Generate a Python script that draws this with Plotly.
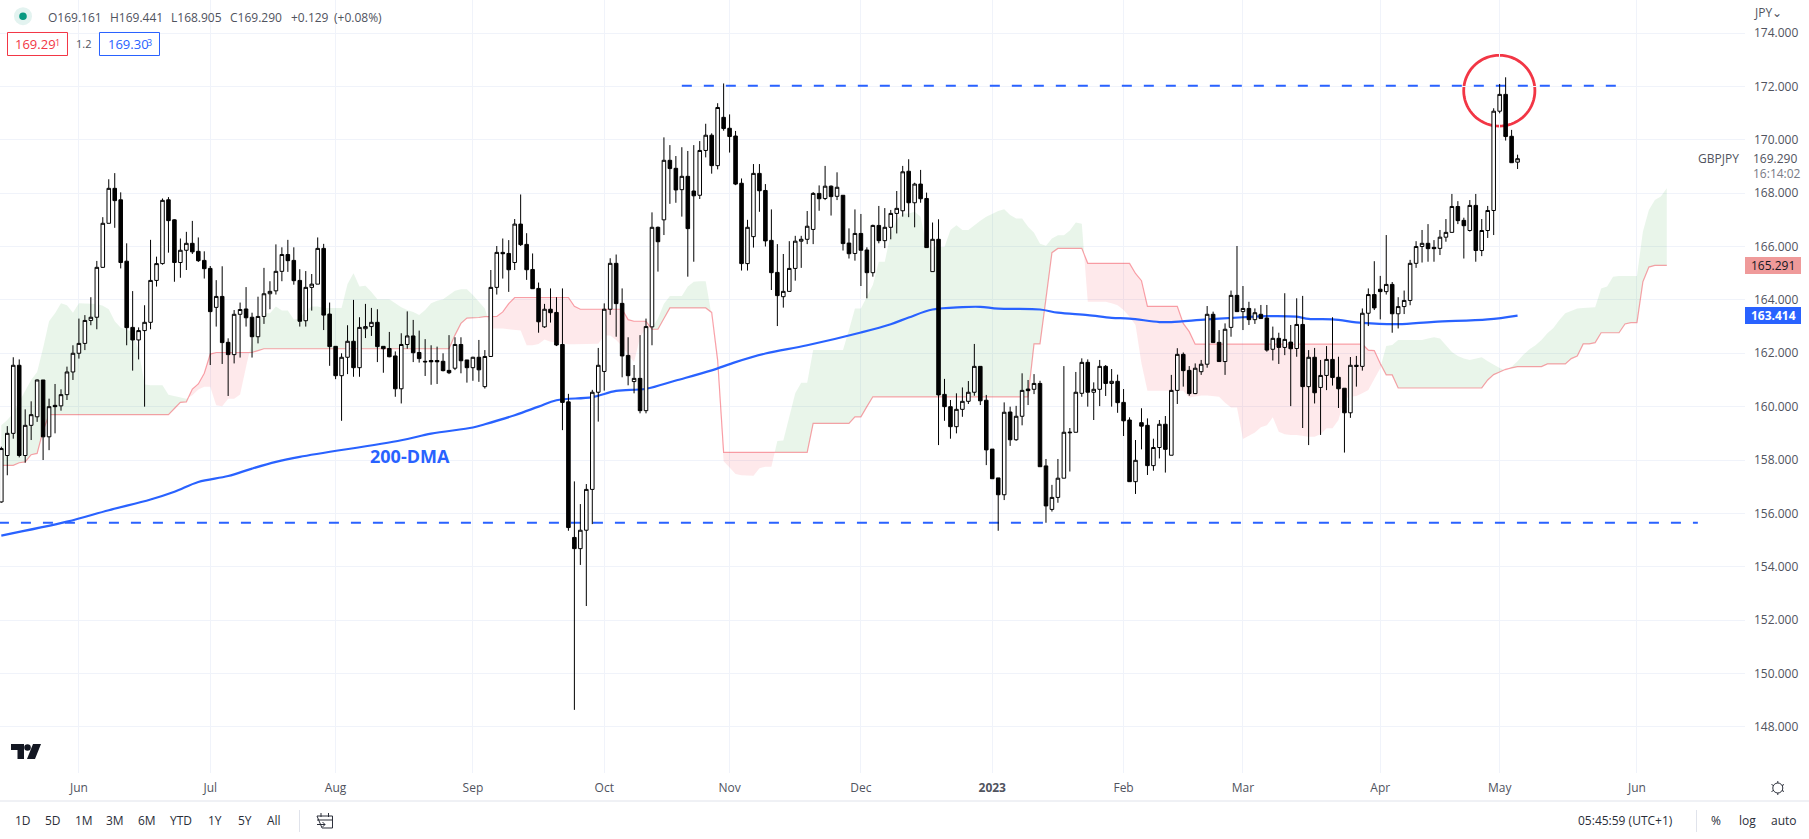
import math
import pandas as pd
import plotly.graph_objects as go

W, H = 1809, 839
PLOT_R, PLOT_B = 1745, 773
FONT = "Open Sans"
GREY = "#50535e"
BLUE = "#2962ff"
RED = "#f23645"

start_date = "2022-05-13"

opens = [156.43,158.17,159.0,161.55,158.17,159.3,159.62,161.0,158.87,160.05,
160.03,160.45,161.3,162.0,162.37,163.23,163.35,165.22,166.87,168.18,
167.75,165.45,162.97,162.5,162.85,163.16,164.73,165.36,167.75,167.0,
165.4,165.86,166.12,165.82,165.48,165.18,163.72,164.13,162.41,161.95,
163.46,163.66,163.35,162.62,163.38,164.23,164.34,165.07,165.7,165.48,
164.73,163.22,164.47,164.59,165.93,163.47,162.26,161.16,161.85,162.45,
161.46,162.92,163.0,163.16,162.26,162.18,161.9,160.67,162.33,162.65,
162.03,161.7,161.73,161.73,161.7,161.36,161.44,162.33,161.75,161.46,
161.85,160.75,161.88,164.47,165.78,165.74,165.4,166.84,166.08,165.14,
164.43,162.99,163.65,163.53,162.33,160.18,155.1,154.68,155.37,156.9,
160.54,161.32,163.65,165.37,163.87,161.92,160.94,161.06,159.85,162.99,
166.72,167.0,169.23,168.93,168.13,168.63,168.08,167.92,169.6,170.17,
169.03,170.84,170.43,170.14,168.37,165.36,166.37,168.74,168.1,166.23,
165.03,164.12,164.32,165.18,166.2,166.27,166.64,167.99,167.8,168.26,
167.88,167.92,166.13,165.74,166.49,165.87,165.02,166.79,166.22,166.72,
167.24,167.34,168.82,167.64,168.34,167.8,165.06,166.27,160.46,160.0,
159.25,159.9,160.2,160.54,161.51,160.24,158.41,157.33,156.7,159.8,
158.76,159.64,160.66,160.65,160.87,157.78,156.15,156.6,157.32,159.02,
159.04,160.5,161.66,160.54,160.65,161.51,160.87,160.95,160.16,159.5,
157.19,159.4,159.3,157.79,158.47,159.34,158.18,160.61,161.96,161.36,
160.49,161.31,161.59,163.46,162.41,161.69,162.97,164.17,163.56,163.68,
163.26,163.46,163.32,162.15,162.56,162.22,162.42,162.18,163.08,160.75,
161.85,160.72,161.17,161.77,161.1,160.69,159.77,161.55,161.51,163.5,
164.2,164.4,164.31,164.58,163.48,163.75,163.98,165.37,166.0,166.12,
165.97,165.93,166.35,166.53,167.5,166.98,166.6,167.54,165.85,166.6,
167.35,171.07,171.7,170.13,169.161]

closes = [158.43,159.0,161.55,158.17,159.3,159.7,161.0,158.87,160.0,160.0,
160.45,161.3,162.0,162.37,163.23,163.35,165.22,166.87,168.18,167.72,
165.4,162.96,162.5,162.85,163.16,164.73,165.36,167.73,166.97,165.4,
165.86,166.12,165.8,165.47,165.17,163.56,164.13,162.4,161.95,163.46,
163.64,163.33,162.62,163.38,164.23,164.32,165.07,165.7,165.47,164.72,
163.2,164.47,164.59,165.93,163.43,162.25,161.16,161.85,162.45,161.46,
162.97,163.0,163.16,162.25,162.17,161.87,160.67,162.33,162.65,162.02,
161.8,161.68,161.68,161.68,161.35,161.27,162.33,161.72,161.46,161.85,
161.38,161.88,164.47,165.78,165.73,165.13,166.84,166.07,165.13,164.42,
163.18,163.65,163.52,162.31,160.16,155.47,154.68,155.37,156.9,160.54,
161.55,163.65,165.37,163.86,161.9,161.16,161.06,159.85,163.0,166.72,
166.18,169.23,168.92,168.12,168.63,166.67,167.9,169.6,170.17,169.03,
171.21,170.42,170.12,168.34,165.36,166.72,168.74,168.09,166.21,165.02,
164.16,164.32,165.18,166.2,166.27,166.76,167.99,167.79,168.26,167.87,
168.22,166.11,165.73,166.49,165.86,165.02,166.79,166.22,166.72,167.24,
167.43,168.8,167.64,168.34,167.79,165.96,166.27,160.44,160.0,159.25,
159.9,160.2,160.54,161.51,160.22,158.38,157.3,156.7,159.79,158.76,
159.64,160.61,160.6,160.87,157.75,156.28,156.6,157.32,159.04,159.04,
160.54,161.66,160.54,160.65,161.51,160.87,160.95,160.15,159.47,157.19,
157.99,159.27,157.79,158.47,159.34,158.4,160.61,161.96,161.35,160.49,
161.44,161.59,163.46,162.4,161.69,162.9,164.17,163.56,163.68,163.26,
163.52,163.3,162.12,162.56,162.22,162.52,162.17,163.08,160.75,161.85,
160.52,161.17,161.77,161.09,160.67,159.77,161.55,161.51,163.5,164.2,
163.7,164.31,164.58,163.48,163.75,163.98,165.37,166.0,166.12,165.92,
165.92,166.35,166.53,167.5,166.97,166.78,167.54,165.85,166.6,167.35,
171.07,171.7,170.12,169.14,169.29]

highs = [158.5,159.27,161.85,161.77,159.9,160.2,161.02,161.0,160.3,160.85,
160.65,161.5,162.3,163.3,163.43,164.1,165.46,167.1,168.52,168.75,
168.03,166.12,164.33,162.97,163.8,166.25,165.62,167.8,167.85,167.02,
166.3,166.55,166.96,166.34,165.82,165.27,164.74,165.26,162.56,163.62,
163.9,164.48,163.52,164.12,165.2,164.7,166.08,165.97,166.25,165.97,
165.15,165.08,164.97,166.34,166.1,163.9,162.26,162.0,163.05,164.0,
163.35,163.85,163.7,163.65,162.26,162.8,162.07,162.75,163.57,163.25,
162.85,162.53,162.3,162.25,162.0,162.68,162.6,162.6,161.75,161.87,
162.5,162.12,165.12,166.02,166.3,166.24,167.03,167.95,166.5,165.74,
164.65,163.85,164.43,164.1,164.43,160.48,157.2,156.35,157.1,160.63,
162.2,163.87,165.56,165.7,164.43,162.6,161.56,162.68,163.3,167.28,
166.75,170.09,169.8,169.39,169.72,169.58,169.8,169.95,170.6,170.24,
171.37,172.11,170.95,170.33,168.55,167.0,169.09,169.09,168.34,167.39,
166.09,165.72,166.2,166.4,166.4,167.33,168.04,168.29,169.02,168.29,
168.78,167.92,166.68,167.39,167.22,165.97,166.82,167.52,167.44,167.37,
168.08,169.02,169.27,168.39,168.87,168.02,166.9,167.02,161.04,160.25,
160.5,160.72,160.96,162.35,161.51,160.44,158.41,157.33,160.16,160.0,
160.03,161.25,161.0,161.22,160.97,158.04,157.07,158.04,161.52,159.2,
161.3,161.81,161.77,160.91,161.75,161.56,161.41,161.2,160.66,159.6,
158.75,159.94,159.56,158.8,159.5,159.65,161.19,162.19,162.03,161.52,
161.62,161.75,163.77,163.56,162.87,163.12,164.35,166.02,164.52,163.93,
163.68,163.81,163.81,163.0,162.77,164.25,163.06,164.06,164.15,162.12,
162.2,161.75,162.27,163.35,161.87,160.69,161.86,161.9,163.68,164.43,
165.45,164.9,166.43,164.67,164.1,164.35,165.5,166.2,166.62,166.84,
166.24,166.62,167.03,167.97,167.7,167.08,167.74,167.97,167.03,167.52,
171.18,172.09,172.34,170.37,169.441]

lows = [156.4,157.43,158.8,158.1,157.9,158.75,159.43,158.0,158.37,159.0,
159.85,160.25,161.0,161.8,162.12,163.05,162.9,165.2,166.87,166.7,
165.18,162.3,161.35,161.77,160.0,162.9,164.5,165.32,165.77,164.68,
164.83,165.12,165.72,165.42,164.8,161.56,163.0,161.6,160.4,161.62,
161.84,163.0,161.84,162.37,163.1,163.65,164.2,164.7,165.05,164.57,
163.0,163.0,163.6,164.59,162.87,161.53,161.03,159.47,161.22,161.12,
161.12,162.57,162.65,161.67,161.27,161.85,160.37,160.12,162.17,161.67,
161.65,161.15,160.82,160.85,161.32,161.22,161.37,161.25,160.9,160.97,
160.93,160.68,161.87,164.2,164.8,164.3,165.12,166.02,164.75,164.42,
162.77,162.95,163.15,162.27,159.12,155.35,148.64,154.07,152.53,155.6,
159.44,160.6,163.44,162.62,161.1,160.8,160.5,159.75,159.75,162.3,
165.06,166.43,167.6,167.64,167.12,164.87,165.43,167.78,169.34,168.73,
168.89,170.34,169.52,168.3,165.1,165.1,165.96,167.3,166.0,164.37,
163.02,163.71,164.31,164.72,165.2,166.09,166.09,167.34,167.74,167.16,
167.74,165.85,165.55,165.47,164.52,164.06,164.87,166.12,165.94,166.27,
166.49,167.12,167.1,166.72,167.64,165.96,165.06,158.56,159.47,158.8,
159.0,159.62,160.1,160.41,160.06,157.81,157.3,155.35,156.5,158.53,
158.72,159.3,160.06,160.47,157.75,155.65,156.07,156.4,157.32,157.57,
159.04,160.37,160.0,159.5,160.02,160.4,160.0,159.77,158.9,157.19,
156.73,158.4,157.44,157.6,158.06,157.53,158.18,160.1,160.75,160.41,
160.47,161.19,161.46,162.4,161.69,161.19,162.62,163.56,162.87,163.06,
163.1,163.3,162.06,161.73,161.6,161.93,160.02,161.87,159.2,158.56,
160.12,158.94,160.62,160.79,159.95,158.28,159.58,160.75,161.35,163.02,
163.62,163.27,164.2,162.77,162.93,163.47,163.8,165.2,165.4,165.43,
165.43,165.68,166.18,166.53,166.84,165.55,166.56,165.43,165.64,166.32,
166.43,170.99,169.97,169.14,168.905]

# Ichimoku leading span A (cloud edge), one value per session, 26 sessions ahead of price
span_a = [159.3,159.5,159.75,160.2,160.6,161.0,161.3,162.2,163.2,163.5,
163.87,163.8,163.52,163.87,163.87,163.87,163.85,163.78,163.65,163.2,
162.96,162.9,162.78,162.12,160.83,160.8,160.8,160.8,160.45,160.4,
160.35,160.3,160.43,160.64,160.75,160.75,160.05,160.02,160.3,160.3,
160.46,161.5,162.46,163.1,163.5,163.5,163.75,163.6,163.6,163.27,
163.3,163.6,163.75,163.75,163.7,163.7,163.7,163.7,164.6,165.0,
164.5,164.53,164.3,164.02,164.02,164.02,163.87,163.72,163.62,163.55,
163.43,163.62,163.87,163.97,164.02,164.18,164.34,164.4,164.4,164.18,
163.93,163.68,162.93,162.93,162.93,162.9,162.87,162.85,162.3,162.3,
162.35,162.52,162.43,162.4,162.37,162.34,162.34,162.34,162.36,162.36,
162.36,162.67,162.67,162.5,162.26,161.95,161.67,162.6,162.95,162.95,
163.3,163.86,164.15,164.15,164.15,164.5,164.68,164.7,164.7,163.4,
161.5,157.95,157.72,157.48,157.43,157.42,157.41,157.69,157.75,157.75,
158.71,158.73,159.62,160.5,160.9,160.9,162.12,162.12,162.12,162.12,
162.12,162.12,162.87,163.68,163.68,164.12,164.56,165.43,165.43,166.5,
167.0,167.24,167.24,167.3,167.12,166.0,165.98,165.98,165.98,166.62,
166.8,166.62,166.62,166.8,166.97,167.12,167.24,167.33,167.4,167.18,
167.05,167.05,166.74,166.52,166.1,166.03,166.3,166.42,166.42,166.6,
166.9,166.85,163.93,163.93,163.93,163.93,163.87,163.8,163.62,163.37,
163.06,161.62,160.6,160.6,160.6,160.6,160.6,160.6,160.6,160.34,
160.37,160.42,160.42,160.4,160.37,160.15,159.97,159.97,158.79,158.91,
159.03,159.23,159.3,159.6,159.06,158.97,158.94,158.94,158.9,158.87,
158.87,158.97,159.19,159.19,159.5,160.31,160.37,160.4,160.5,160.62,
161.04,161.44,162.27,162.31,162.5,162.5,162.5,162.5,162.5,162.55,
162.6,162.55,162.3,162.05,161.9,161.8,161.75,161.8,161.85,161.7,
161.57,161.45,161.35,161.5,161.7,161.95,162.15,162.3,162.5,162.75,
162.95,163.25,163.5,163.6,163.68,163.7,163.7,163.72,164.43,164.5,
164.87,164.9,164.9,164.9,164.9,166.56,167.37,167.74,167.87,168.18]

# Ichimoku leading span B (the red line)
span_b = [157.8,157.8,157.8,157.9,157.93,158.2,158.25,159.1,159.7,159.7,
159.7,159.7,159.7,159.7,159.7,159.7,159.7,159.7,159.7,159.7,
159.7,159.7,159.7,159.7,159.7,159.7,159.7,159.7,159.7,159.93,
160.16,160.18,160.66,160.85,161.25,161.97,162.03,162.03,162.03,162.03,
162.03,162.03,162.03,162.1,162.17,162.17,162.17,162.17,162.17,162.17,
162.17,162.17,162.17,162.17,162.17,162.17,162.17,162.17,162.17,162.17,
162.17,162.17,162.17,162.17,162.17,162.17,162.17,162.17,162.17,162.17,
162.17,162.17,162.17,162.17,162.17,162.17,162.68,163.12,163.32,163.32,
163.34,163.37,163.38,163.38,163.55,163.86,164.09,164.09,164.09,164.09,
164.09,164.09,164.09,164.09,164.09,164.09,163.76,163.65,163.65,163.65,
163.65,163.65,163.65,163.65,163.65,163.26,163.2,163.2,163.2,162.9,
162.9,163.3,163.7,163.7,163.7,163.7,163.7,163.7,163.7,163.53,
161.75,158.29,158.29,158.29,158.29,158.29,158.29,158.29,158.29,158.29,
158.29,158.29,158.29,158.29,158.29,158.29,159.37,159.37,159.37,159.37,
159.37,159.37,159.37,159.62,159.62,160.0,160.37,160.37,160.37,160.37,
160.37,160.37,160.37,160.37,160.37,160.37,160.37,160.37,160.37,160.37,
160.37,160.37,160.37,160.37,160.37,160.37,160.37,160.37,160.37,160.37,
160.37,160.37,160.37,162.35,162.35,164.05,165.77,165.93,165.93,165.93,
165.93,165.93,165.37,165.37,165.37,165.37,165.37,165.37,165.37,165.37,
164.99,164.72,163.76,163.76,163.76,163.76,163.76,163.76,163.12,162.81,
162.34,162.34,162.34,162.34,162.34,162.34,162.34,162.34,162.34,162.34,
162.34,162.34,162.34,162.34,162.34,162.34,162.34,162.34,162.34,162.34,
162.34,162.34,162.34,162.34,162.34,162.34,162.34,162.34,162.34,162.12,
162.1,161.62,161.19,161.19,160.7,160.7,160.7,160.7,160.7,160.7,
160.7,160.7,160.7,160.7,160.7,160.7,160.7,160.7,160.7,161.0,
161.2,161.3,161.4,161.45,161.5,161.5,161.5,161.5,161.5,161.6,
161.6,161.6,161.6,161.8,161.9,162.35,162.35,162.4,162.77,162.77,
162.77,162.77,163.1,163.15,163.15,164.68,165.23,165.29,165.29,165.291]

# 200-day moving average, read at session numbers
ma200_session = [0,11,18,25,29,33,38,42,46,50,67,72,79,81,86,90,93,99,103,108,113,119,123,128,135,144,149,152,156,161,164,167,174,177,182,186,189,194,196,202,208,212,217,219,223,228,234,240,249,254]
ma200 = [155.17,155.69,156.12,156.52,156.81,157.18,157.4,157.68,157.93,158.12,158.74,158.99,159.22,159.34,159.68,160.0,160.24,160.36,160.59,160.67,160.98,161.36,161.67,161.99,162.3,162.78,163.09,163.34,163.64,163.73,163.74,163.67,163.64,163.52,163.43,163.33,163.3,163.17,163.17,163.27,163.35,163.39,163.37,163.29,163.27,163.14,163.09,163.18,163.27,163.414]

# Horizontal levels the author drew: level, first session, last session
resistance = (172.02, 114, 270.5)
support = (155.65, -0.4, 284.2)

month_dates = ["2022-06-01","2022-07-01","2022-08-01","2022-09-01","2022-10-03","2022-11-01","2022-12-01","2023-01-02","2023-02-01","2023-03-01","2023-04-03","2023-05-01","2023-06-01"]
month_labels = ["Jun","Jul","Aug","Sep","Oct","Nov","Dec","<b>2023</b>","Feb","Mar","Apr","May","Jun"]
price_ticks = [148,150,152,154,156,158,160,162,164,166,168,170,172,174]

dates = pd.bdate_range(start_date, periods=300)
DAY = pd.Timedelta(days=1)


def at(s):
    """Axis date of a fractional session number."""
    base = int(s // 1)
    return dates[base] + (s - base) * DAY if base >= 0 else dates[0] + s * DAY


def px(x):
    return x / PLOT_R


def py(y):
    return 1 - y / PLOT_B


fig = go.Figure()

# Cloud: one polygon per stretch in which span A stays on the same side of span B
segments = []
cur = []
n = len(span_a)
for i in range(n):
    d = span_a[i] - span_b[i]
    cur.append((i, span_a[i], span_b[i]))
    if i < n - 1:
        d2 = span_a[i + 1] - span_b[i + 1]
        if d * d2 < 0:
            f = d / (d - d2)
            level = span_a[i] + f * (span_a[i + 1] - span_a[i])
            cur.append((i + f, level, level))
            segments.append((d > 0, cur))
            cur = [(i + f, level, level)]
segments.append((span_a[-1] > span_b[-1], cur))

for up, seg_pts in segments:
    xs = [at(s[0]) for s in seg_pts] + [at(s[0]) for s in reversed(seg_pts)]
    ys = [s[1] for s in seg_pts] + [s[2] for s in reversed(seg_pts)]
    fig.add_trace(go.Scatter(x=xs, y=ys, mode="lines", fill="toself", line=dict(width=0),
                             fillcolor="rgba(76,175,80,0.12)" if up else "rgba(242,54,69,0.11)",
                             hoverinfo="skip", showlegend=False))

fig.add_trace(go.Scatter(x=dates[:len(span_b)], y=span_b, mode="lines", line=dict(color="rgba(242,54,69,0.45)", width=1.2),
                         hoverinfo="skip", showlegend=False))
fig.add_trace(go.Scatter(x=[dates[i] for i in ma200_session], y=ma200, mode="lines",
                         line=dict(color=BLUE, width=2.2, shape="spline", smoothing=1.0), hoverinfo="skip", showlegend=False))
for level, a, b in (resistance, support):
    fig.add_trace(go.Scatter(x=[at(a), at(b)], y=[level, level], mode="lines",
                             line=dict(color=BLUE, width=2, dash="10px,12px"), hoverinfo="skip", showlegend=False))

fig.add_trace(go.Candlestick(x=dates[:len(opens)], open=opens, high=highs, low=lows, close=closes, yaxis="y2",
                             whiskerwidth=0,
                             increasing=dict(line=dict(color="#000000", width=1), fillcolor="#ffffff"),
                             decreasing=dict(line=dict(color="#000000", width=1), fillcolor="#000000"),
                             showlegend=False))

y_range = [174 - (PLOT_B - 33) / 26.69, 174 + 33 / 26.69]
grid = "#f0f3fa"
fig.update_layout(
    width=W, height=H, margin=dict(l=0, r=W - PLOT_R, t=0, b=H - PLOT_B),
    paper_bgcolor="#ffffff", plot_bgcolor="#ffffff", showlegend=False, boxgap=0.15,
    font=dict(family=FONT, size=12, color=GREY),
    xaxis=dict(type="date", range=[at(-0.22), at(292.1)], rangebreaks=[dict(bounds=["sat", "mon"])],
               rangeslider=dict(visible=False), tickmode="array", tickvals=month_dates, ticktext=month_labels,
               showgrid=True, gridcolor=grid, gridwidth=1, zeroline=False, showline=False, ticks="",
               tickfont=dict(family=FONT, size=12, color=GREY), ticklabelstandoff=6),
    yaxis=dict(side="right", range=y_range, tickmode="array", tickvals=price_ticks,
               ticktext=[f"{v:.3f}" for v in price_ticks], showgrid=True, gridcolor=grid, gridwidth=1,
               zeroline=False, showline=False, ticks="", tickfont=dict(family=FONT, size=12, color=GREY),
               ticklabelstandoff=8),
    yaxis2=dict(overlaying="y", range=y_range, visible=False, fixedrange=True),
)

shapes = []


def box(x0, y0, x1, y1, **kw):
    shapes.append(dict(type="rect", xref="paper", yref="paper", x0=px(x0), x1=px(x1), y0=py(y0), y1=py(y1), **kw))


def seg(x0, y0, x1, y1, color, width=1):
    shapes.append(dict(type="line", xref="paper", yref="paper", x0=px(x0), x1=px(x1), y0=py(y0), y1=py(y1),
                       line=dict(color=color, width=width)))


def ell(cx, cy, rx, ry, **kw):
    shapes.append(dict(type="circle", xref="paper", yref="paper", x0=px(cx - rx), x1=px(cx + rx),
                       y0=py(cy + ry), y1=py(cy - ry), **kw))


def path(points, fill=None, color=None, width=0, **kw):
    d = "M " + " L ".join(f"{px(x):.5f},{py(y):.5f}" for x, y in points) + " Z"
    shapes.append(dict(type="path", xref="paper", yref="paper", path=d, fillcolor=fill or "rgba(0,0,0,0)",
                       line=dict(color=color or "rgba(0,0,0,0)", width=width), **kw))


# Author's circle round the latest test of resistance, behind the candles
path([(1499.3 + 35.6 * math.cos(math.radians(a)), 90.7 + 35.4 * math.sin(math.radians(a))) for a in range(0, 360, 5)],
     color=RED, width=2.8, layer="below")

# Status dot
ell(23, 16.2, 9, 9, fillcolor="#e3f3f0", line=dict(width=0))
ell(23, 16.2, 3.8, 3.8, fillcolor="#089981", line=dict(width=0))

# Buy/sell boxes
path([(7.5, 32.5), (67.5, 32.5), (67.5, 55.5), (7.5, 55.5)], fill="#ffffff", color=RED, width=1)
path([(99.5, 32.5), (159.5, 32.5), (159.5, 55.5), (99.5, 55.5)], fill="#ffffff", color=BLUE, width=1)

# Price tags on the scale
box(1745, 257, 1801, 274, fillcolor="#ef9a9a", line=dict(width=0))
box(1745, 307, 1801, 324, fillcolor=BLUE, line=dict(width=0))

# Toolbar rules
seg(0, 801, W, 801, "#e0e3eb")
seg(299.5, 810, 299.5, 832, "#e0e3eb")
seg(1696.5, 810, 1696.5, 832, "#e0e3eb")

# Watermark logo
dark = "#131722"
path([(11, 744), (24, 744), (24, 759), (17.5, 759), (17.5, 750), (11, 750)], fill=dark)
ell(27.5, 747.5, 3.3, 3.3, fillcolor=dark, line=dict(width=0))
path([(33, 744), (41, 744), (35, 759), (27, 759)], fill=dark)

# Calendar icon
icon = "#2a2e39"
path([(317, 816), (332.5, 816), (332.5, 828), (322, 828)], color=icon, width=1)
seg(317, 820, 332.5, 820, icon)
seg(321, 813, 321, 817, icon)
seg(328.5, 813, 328.5, 817, icon)
seg(317, 824.5, 325, 824.5, icon)
seg(322.5, 822, 325, 824.5, icon)
seg(322.5, 827, 325, 824.5, icon)

# Settings icon
ell(1777.8, 788, 5, 5, line=dict(color=icon, width=1))
for x0, y0, x1, y1 in [(1777.8, 781, 1777.8, 783), (1777.8, 793, 1777.8, 795), (1771.5, 784.5, 1773.5, 785.5),
                       (1784, 784.5, 1782, 785.5), (1771.5, 791.5, 1773.5, 790.5), (1784, 791.5, 1782, 790.5)]:
    seg(x0, y0, x1, y1, icon)

fig.update_layout(shapes=shapes)


def text(x, y, s, size=12, color=GREY, anchor="left", weight="normal"):
    fig.add_annotation(xref="paper", yref="paper", x=px(x), y=py(y), text=s, showarrow=False, xanchor=anchor,
                       yanchor="middle", borderpad=0, borderwidth=0,
                       font=dict(family=FONT, size=size, color=color, weight=weight))


for x, s in [(47.5, "O169.161"), (109.5, "H169.441"), (170.5, "L168.905"), (229.5, "C169.290"), (290.5, "+0.129"), (333.5, "(+0.08%)")]:
    text(x, 17.5, s, 12)
text(15, 44.5, "169.29", 13, RED)
text(55, 42, "1", 9, RED)
text(83.5, 44, "1.2", 11, GREY, "center")
text(107.5, 44.5, "169.30", 13, BLUE)
text(146.5, 42, "3", 9, BLUE)
text(1754, 12.5, "JPY⌄", 12, GREY)
text(1698, 158.7, "GBPJPY", 12, GREY)
text(1753, 158.7, "169.290", 12, GREY)
text(1753, 173, "16:14:02", 12, "#787b86")
text(1773, 265.5, "165.291", 12, "#131722", "center")
text(1773, 315.5, "163.414", 12, "#ffffff", "center", "bold")
text(410, 456, "200-DMA", 18, BLUE, "center", "bold")

for x, s in [(23, "1D"), (52.5, "5D"), (84, "1M"), (115.5, "3M"), (146.5, "6M"), (181, "YTD"), (215, "1Y"), (245, "5Y"), (274, "All"),
             (1625, "05:45:59 (UTC+1)"), (1716, "%"), (1747, "log"), (1784, "auto")]:
    text(x, 820.5, s, 12, icon, "center")

fig.write_html("out.html", config=dict(displayModeBar=False),
               post_script="document.body.style.margin='0';document.documentElement.style.overflow='hidden';")
